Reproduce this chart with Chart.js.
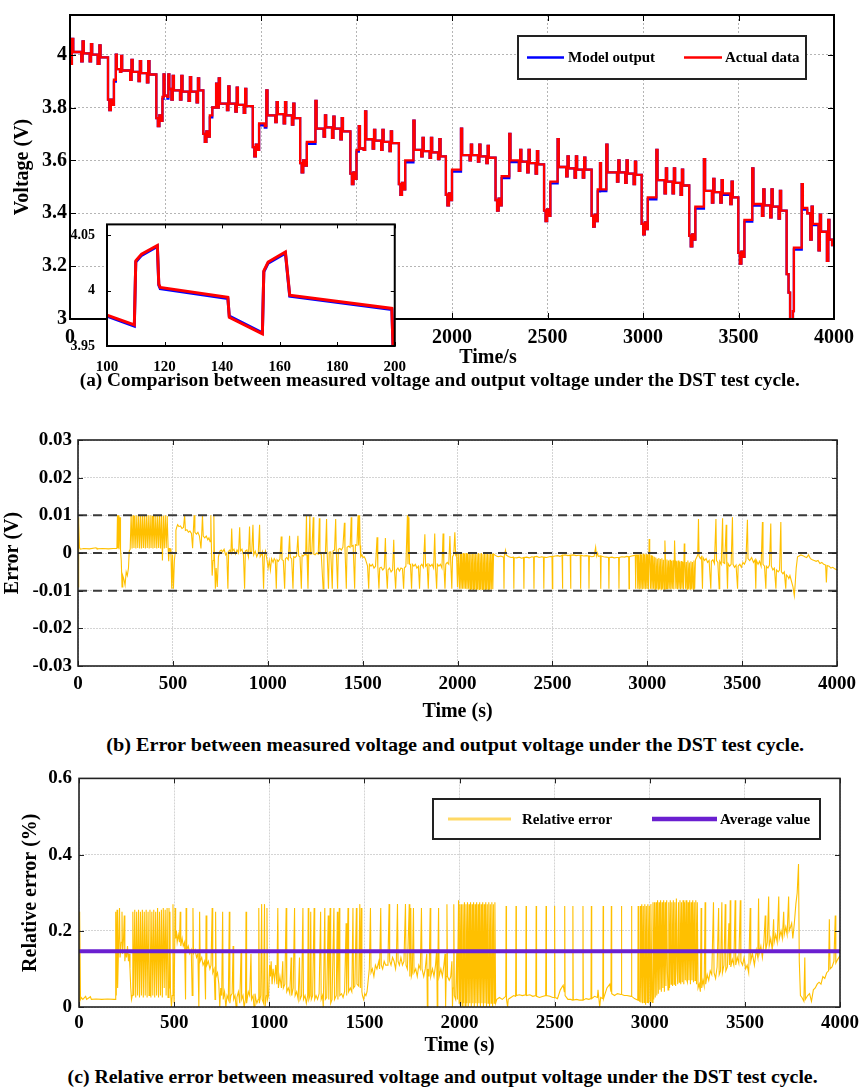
<!DOCTYPE html>
<html><head><meta charset="utf-8">
<script src="https://cdn.jsdelivr.net/npm/chart.js@4.4.1/dist/chart.umd.min.js"></script>
<style>
html,body{margin:0;padding:0;background:#fff;}
#page{position:relative;width:867px;height:1089px;overflow:hidden;background:#fff;font-family:"Liberation Serif","Times New Roman",serif;}
.box{position:absolute;}
.cap{position:absolute;width:867px;text-align:center;font-weight:bold;white-space:nowrap;color:#000;line-height:22px;}
.cap span{display:inline-block;transform-origin:50% 50%;}
</style></head><body>
<div id="page">
  <div class="box" style="left:0;top:0;width:867px;height:372px"><canvas id="cA"></canvas></div>
  <div class="box" style="left:60px;top:212px;width:350px;height:160px"><canvas id="cI"></canvas></div>
  <div class="cap" style="left:6px;top:369px"><span id="capA" style="font-size:18px">(a) Comparison between measured voltage and output voltage under the DST test cycle.</span></div>
  <div class="box" style="left:0;top:420px;width:867px;height:310px"><canvas id="cB"></canvas></div>
  <div class="cap" style="left:22px;top:734px"><span id="capB" style="font-size:19px">(b) Error between measured voltage and output voltage under the DST test cycle.</span></div>
  <div class="box" style="left:0;top:760px;width:867px;height:300px"><canvas id="cC"></canvas></div>
  <div class="cap" style="left:9px;top:1066px"><span id="capC" style="font-size:19px">(c) Relative error between measured voltage and output voltage under the DST test cycle.</span></div>
</div>
<script>
// ---------------- DATA ----------------
const timeTicks = [0,500,1000,1500,2000,2500,3000,3500,4000];
const voltTicks = [3,3.2,3.4,3.6,3.8,4];
const voltTickLabels = ['3','3.2','3.4','3.6','3.8','4'];
const insetTimeTicks = [100,120,140,160,180,200];
const insetVoltTicks = [3.95,4,4.05];
const insetVoltTickLabels = ['3.95','4','4.05'];
const errTicks = [-0.03,-0.02,-0.01,0,0.01,0.02,0.03];
const errTickLabels = ['-0.03','-0.02','-0.01','0','0.01','0.02','0.03'];
const relTicks = [0,0.2,0.4,0.6];
const relTickLabels = ['0','0.2','0.4','0.6'];
const errorBands = [0.01,0,-0.01];
const avgRelErr = 0.146;

// [time s, voltage V] (step series)
const voltageActual = [
[0,3.965],[10,4.06],[17,4.01],[59,3.975],[66,4.05],[72,4.005],[103,3.975],[110,4.04],[116,4.0],[145,3.965],[154,4.035],[160,3.99],
[199,3.83],[206,3.79],[214,3.83],[222,3.81],[230,3.905],[240,4.0],[245,3.945],[262,3.935],[268,3.995],[273,3.94],[315,3.905],[322,3.98],[328,3.935],[359,3.9],[366,3.975],[372,3.93],[403,3.895],[410,3.975],[416,3.925],
[452,3.76],[460,3.73],[468,3.77],[476,3.75],[484,3.84],[490,3.925],[495,3.845],[510,3.84],[515,3.925],[520,3.87],[531,3.83],[538,3.92],[544,3.865],[576,3.83],[583,3.92],[589,3.86],[621,3.825],[628,3.915],[634,3.86],[663,3.82],[670,3.91],[676,3.865],
[698,3.7],[706,3.67],[714,3.71],[722,3.69],[732,3.77],[745,3.8],[765,3.89],[770,3.8],[779,3.91],[785,3.815],[822,3.79],[829,3.88],[835,3.815],[866,3.785],[873,3.875],[879,3.81],[910,3.78],[917,3.87],[923,3.805],
[957,3.65],[965,3.615],[973,3.66],[981,3.64],[990,3.74],[1020,3.73],[1028,3.865],[1034,3.77],[1075,3.745],[1082,3.82],[1088,3.775],[1119,3.74],[1126,3.82],[1132,3.77],[1162,3.735],[1169,3.815],[1175,3.76],
[1205,3.59],[1213,3.555],[1221,3.6],[1229,3.58],[1240,3.67],[1285,3.825],[1291,3.72],[1328,3.69],[1335,3.77],[1341,3.725],[1372,3.685],[1379,3.765],[1385,3.72],[1416,3.68],[1423,3.76],[1429,3.71],
[1468,3.55],[1476,3.51],[1484,3.555],[1492,3.53],[1500,3.64],[1512,3.73],[1518,3.645],[1538,3.64],[1545,3.785],[1551,3.68],[1585,3.645],[1592,3.715],[1598,3.675],[1629,3.64],[1636,3.715],[1642,3.67],[1673,3.635],[1680,3.71],[1686,3.665],
[1722,3.51],[1730,3.47],[1738,3.515],[1746,3.49],[1755,3.6],[1798,3.75],[1804,3.64],[1839,3.615],[1846,3.685],[1852,3.635],[1883,3.61],[1890,3.685],[1896,3.63],[1927,3.605],[1934,3.68],[1940,3.615],
[1968,3.47],[1976,3.43],[1984,3.475],[1992,3.45],[2000,3.565],[2047,3.72],[2053,3.62],[2092,3.6],[2099,3.66],[2105,3.62],[2136,3.595],[2143,3.66],[2149,3.615],[2180,3.59],[2187,3.655],[2193,3.61],
[2228,3.45],[2236,3.41],[2244,3.455],[2252,3.43],[2260,3.54],[2300,3.7],[2306,3.6],[2350,3.56],[2357,3.64],[2363,3.595],[2394,3.555],[2401,3.64],[2407,3.59],[2438,3.55],[2445,3.635],[2451,3.585],
[2482,3.41],[2490,3.37],[2498,3.415],[2506,3.39],[2515,3.52],[2553,3.68],[2559,3.575],[2598,3.54],[2605,3.615],[2611,3.57],[2642,3.535],[2649,3.615],[2655,3.565],[2685,3.535],[2692,3.61],[2698,3.565],
[2731,3.39],[2739,3.35],[2747,3.395],[2755,3.37],[2763,3.49],[2775,3.59],[2780,3.49],[2808,3.66],[2814,3.555],[2864,3.52],[2871,3.6],[2877,3.555],[2907,3.515],[2914,3.6],[2920,3.55],[2951,3.51],[2958,3.595],[2964,3.545],
[2993,3.36],[3001,3.32],[3009,3.365],[3017,3.34],[3025,3.46],[3070,3.64],[3076,3.525],[3113,3.475],[3120,3.57],[3126,3.52],[3155,3.475],[3162,3.57],[3168,3.515],[3197,3.47],[3204,3.565],[3210,3.505],
[3242,3.315],[3250,3.275],[3258,3.32],[3266,3.3],[3274,3.425],[3319,3.605],[3325,3.485],[3361,3.44],[3368,3.53],[3374,3.48],[3405,3.44],[3412,3.525],[3418,3.475],[3457,3.435],[3464,3.52],[3470,3.46],
[3499,3.25],[3507,3.21],[3515,3.255],[3523,3.235],[3531,3.375],[3572,3.57],[3578,3.435],[3623,3.39],[3630,3.49],[3636,3.43],[3666,3.385],[3673,3.49],[3679,3.425],[3710,3.38],[3717,3.485],[3723,3.41],
[3752,3.17],[3762,3.1],[3770,2.97],[3785,3.03],[3790,3.27],[3831,3.51],[3837,3.42],[3860,3.4],[3876,3.3],[3883,3.425],[3889,3.36],[3919,3.26],[3926,3.395],[3932,3.33],[3963,3.22],[3970,3.375],[3976,3.3],[3990,3.28],[4000,3.28]
];
const voltageModel = [
[0,3.965],[10,4.06],[17,4.01],[59,3.975],[66,4.05],[72,4.005],[103,3.975],[110,4.04],[116,4.0],[145,3.965],[154,4.035],[160,3.99],
[199,3.83],[206,3.79],[214,3.83],[222,3.81],[230,3.898],[240,4.0],[245,3.945],[262,3.935],[268,3.995],[273,3.94],[315,3.905],[322,3.98],[328,3.935],[359,3.9],[366,3.975],[372,3.93],[403,3.895],[410,3.975],[416,3.925],
[452,3.76],[460,3.73],[468,3.77],[476,3.75],[484,3.833],[490,3.925],[495,3.845],[510,3.834],[515,3.925],[520,3.87],[531,3.83],[538,3.92],[544,3.865],[576,3.83],[583,3.92],[589,3.86],[621,3.825],[628,3.915],[634,3.86],[663,3.82],[670,3.91],[676,3.865],
[698,3.7],[706,3.67],[714,3.71],[722,3.69],[732,3.763],[745,3.8],[765,3.89],[770,3.8],[779,3.91],[785,3.815],[822,3.79],[829,3.88],[835,3.815],[866,3.785],[873,3.875],[879,3.81],[910,3.78],[917,3.87],[923,3.805],
[957,3.65],[965,3.615],[973,3.66],[981,3.64],[990,3.733],[1020,3.724],[1028,3.865],[1034,3.77],[1075,3.745],[1082,3.82],[1088,3.775],[1119,3.74],[1126,3.82],[1132,3.77],[1162,3.735],[1169,3.815],[1175,3.76],
[1205,3.59],[1213,3.555],[1221,3.6],[1229,3.58],[1240,3.663],[1285,3.825],[1291,3.72],[1328,3.69],[1335,3.77],[1341,3.725],[1372,3.685],[1379,3.765],[1385,3.72],[1416,3.68],[1423,3.76],[1429,3.71],
[1468,3.55],[1476,3.51],[1484,3.555],[1492,3.53],[1500,3.633],[1512,3.73],[1518,3.645],[1538,3.64],[1545,3.785],[1551,3.68],[1585,3.645],[1592,3.715],[1598,3.675],[1629,3.64],[1636,3.715],[1642,3.67],[1673,3.635],[1680,3.71],[1686,3.665],
[1722,3.51],[1730,3.47],[1738,3.515],[1746,3.49],[1755,3.593],[1798,3.75],[1804,3.64],[1839,3.615],[1846,3.685],[1852,3.635],[1883,3.61],[1890,3.685],[1896,3.63],[1927,3.605],[1934,3.68],[1940,3.615],
[1968,3.47],[1976,3.43],[1984,3.475],[1992,3.45],[2000,3.558],[2047,3.72],[2053,3.62],[2092,3.6],[2099,3.66],[2105,3.62],[2136,3.595],[2143,3.66],[2149,3.615],[2180,3.59],[2187,3.655],[2193,3.61],
[2228,3.45],[2236,3.41],[2244,3.455],[2252,3.43],[2260,3.533],[2300,3.7],[2306,3.594],[2350,3.56],[2357,3.64],[2363,3.595],[2394,3.555],[2401,3.64],[2407,3.59],[2438,3.55],[2445,3.635],[2451,3.585],
[2482,3.41],[2490,3.37],[2498,3.415],[2506,3.39],[2515,3.513],[2553,3.68],[2559,3.575],[2598,3.54],[2605,3.615],[2611,3.57],[2642,3.535],[2649,3.615],[2655,3.565],[2685,3.535],[2692,3.61],[2698,3.565],
[2731,3.39],[2739,3.35],[2747,3.395],[2755,3.37],[2763,3.483],[2775,3.59],[2780,3.484],[2808,3.66],[2814,3.555],[2864,3.52],[2871,3.6],[2877,3.555],[2907,3.515],[2914,3.6],[2920,3.55],[2951,3.51],[2958,3.595],[2964,3.545],
[2993,3.36],[3001,3.32],[3009,3.365],[3017,3.34],[3025,3.453],[3070,3.64],[3076,3.525],[3113,3.475],[3120,3.57],[3126,3.52],[3155,3.475],[3162,3.57],[3168,3.515],[3197,3.47],[3204,3.565],[3210,3.505],
[3242,3.315],[3250,3.275],[3258,3.32],[3266,3.3],[3274,3.418],[3319,3.605],[3325,3.485],[3361,3.44],[3368,3.53],[3374,3.48],[3405,3.44],[3412,3.525],[3418,3.47],[3457,3.435],[3464,3.52],[3470,3.46],
[3499,3.25],[3507,3.21],[3515,3.255],[3523,3.235],[3531,3.368],[3572,3.57],[3578,3.429],[3623,3.39],[3630,3.49],[3636,3.43],[3666,3.385],[3673,3.49],[3679,3.425],[3710,3.38],[3717,3.485],[3723,3.41],
[3752,3.17],[3762,3.1],[3770,2.97],[3785,3.03],[3790,3.263],[3831,3.51],[3837,3.414],[3860,3.4],[3876,3.3],[3883,3.425],[3889,3.355],[3919,3.26],[3926,3.395],[3932,3.33],[3963,3.22],[3970,3.375],[3976,3.3],[3990,3.28],[4000,3.28]
];
// inset (100-200 s)
const insetActual = [[100,3.978],[109.5,3.969],[110,4.027],[112,4.033],[117.5,4.041],[118,4.006],[118.5,4.003],[142,3.994],[142.5,3.976],[154,3.961],[154.5,4.018],[156,4.026],[162,4.035],[163.5,3.996],[199,3.984],[199.5,3.94]];
const insetModel = [[100,3.977],[109.5,3.968],[110,4.026],[112,4.032],[117.5,4.04],[118,4.005],[118.5,4.002],[142,3.993],[142.5,3.977],[154,3.962],[154.5,4.017],[156,4.025],[162,4.034],[163.5,3.995],[199,3.983],[199.5,3.94]];

// [time s, error V]
const errorData = [
[0,-0.009],[2,0.0095],[5,0.008],[8,0.0015],[12,0.001],[30,0.0012],[60,0.0011],[95,0.0014],[100,0.0011],[130,0.0012],[160,0.0011],[185,0.0012],[205,0.0012],
[208,0.01],[210,0.0013],[214,0.01],[216,0.001],[222,0.0095],[224,0.001],[228,-0.002],[232,-0.009],[236,-0.006],[242,-0.007],[248,-0.0085],[254,-0.005],[260,-0.006],[266,-0.004],[270,0.0005],[275,0.001],
[280,0.01],[285,0.0012],[290,0.01],[295,0.0013],[300,0.0098],[305,0.0012],[310,0.01],[315,0.0013],[320,0.01],[325,0.0012],[330,0.0099],[335,0.0012],[340,0.01],[345,0.0013],[350,0.01],[355,0.0012],[360,0.0098],[365,0.0013],[370,0.01],[375,0.0012],[380,0.01],[385,0.0013],[390,0.0099],[395,0.0012],[400,0.01],[405,0.0013],[410,0.01],[415,0.0012],[420,0.0098],[425,0.0013],[430,0.01],[435,0.0012],[440,0.01],[445,-0.002],[450,0.0099],[455,0.0012],[460,0.01],[465,0.0013],[470,0.0098],[475,0.0012],[478,-0.0022],[481,0.0012],
[485,0.0012],[490,-0.0005],[494,-0.0095],[498,-0.0005],[503,-0.0095],[508,-0.002],[512,0.0],[516,0.006],[520,0.0068],
[525,0.0075],[532,0.007],[540,0.0072],[548,0.0065],[556,0.0068],[562,0.01],[566,0.006],[574,0.0062],[582,0.0055],[590,0.0058],[598,0.0052],[604,0.0013],[608,0.006],[612,0.01],[616,0.0055],[624,0.005],[632,0.0055],[640,0.0045],[648,0.0012],[652,0.005],[656,0.01],[660,0.0045],[668,0.004],[676,0.0045],[684,0.0035],[690,0.004],
[696,0.003],[700,0.01],[703,0.002],[707,-0.006],[712,-0.002],[716,0.01],[719,-0.001],[724,-0.0095],[728,-0.004],[734,-0.009],[740,-0.001],[748,0.0005],
[755,0.0008],[762,0.0003],[770,0.001],[778,-0.0005],[784,0.0],[790,-0.0095],[794,0.0005],[800,0.0008],[806,0.0],[810,0.0065],[814,0.0005],[822,0.001],[830,-0.0003],[838,0.0008],[846,0.0],[852,0.0068],[856,0.0005],[864,0.001],[872,-0.0005],[878,-0.0095],[882,0.0005],[890,0.0008],[898,-0.001],[904,0.007],[908,0.0],[916,0.0005],[922,0.0075],[926,-0.0005],[934,0.0005],[942,-0.001],[950,0.0],[957,0.0075],[960,-0.001],
[966,-0.0005],[972,0.0003],[978,-0.0095],[982,-0.001],[988,0.0005],[994,-0.0012],
[1002,-0.004],[1008,-0.002],[1014,-0.0045],[1020,-0.0015],[1028,-0.0025],[1034,-0.0015],[1040,-0.002],[1045,-0.0095],[1049,-0.0018],[1056,-0.0022],[1064,-0.0015],[1071,0.0044],[1075,-0.0018],[1082,-0.002],[1089,-0.0095],[1093,-0.0015],[1100,-0.0012],[1108,-0.0018],[1115,0.0046],[1119,-0.0012],[1126,-0.0015],[1133,-0.0095],[1137,-0.001],[1144,-0.0012],[1152,-0.0008],[1159,0.0046],[1163,-0.0008],[1170,-0.001],[1177,-0.0095],[1181,-0.0006],[1188,-0.0008],[1195,-0.0003],
[1200,-0.0005],[1204,0.01],[1207,-0.0005],[1212,-0.0095],[1216,0.0],[1222,0.01],[1225,-0.0003],[1232,-0.0002],[1240,0.0095],[1243,-0.0003],[1250,-0.0005],[1258,0.0],[1266,-0.0003],[1272,0.0092],[1275,-0.0002],[1282,-0.0004],
[1292,-0.0095],[1296,-0.0003],[1304,0.0],[1310,0.009],[1313,0.0],[1320,-0.0095],[1324,0.0002],[1332,0.0003],[1340,-0.0095],[1344,0.0005],[1352,0.0008],[1358,0.009],[1361,0.0008],[1368,-0.0095],[1372,0.001],[1380,0.0012],[1388,0.0008],[1396,0.0015],[1404,0.008],[1407,0.0012],[1414,-0.0095],[1418,0.0015],[1426,0.0018],[1434,0.0015],[1440,0.0095],[1443,0.0018],[1450,0.002],[1458,-0.0095],[1462,0.0022],[1470,0.002],[1476,0.01],[1479,0.002],[1484,0.01],[1487,0.002],
[1490,-0.001],[1496,-0.0005],[1502,-0.0012],[1508,-0.001],[1514,-0.0015],
[1520,-0.0025],[1526,-0.0035],[1532,-0.0095],[1536,-0.003],[1544,-0.0035],[1552,-0.003],[1560,-0.004],[1568,-0.0035],[1576,0.0042],[1580,-0.0035],[1586,-0.0095],[1590,-0.004],[1598,-0.0038],[1606,-0.0045],[1614,-0.004],[1620,0.004],[1624,-0.004],[1630,-0.0095],[1634,-0.0045],[1642,-0.004],[1650,-0.005],[1658,-0.0045],[1664,0.0035],[1668,-0.0045],[1674,-0.0095],[1678,-0.0045],[1686,-0.004],[1694,-0.0048],[1702,-0.004],[1710,-0.0042],[1716,-0.0095],[1720,-0.004],[1728,-0.0035],[1736,0.01],[1739,-0.003],[1744,0.0095],[1747,-0.003],
[1752,-0.003],[1758,-0.0095],[1762,-0.003],[1770,-0.0035],[1778,-0.003],[1786,-0.004],[1794,-0.0035],[1800,-0.0095],[1804,-0.0035],[1812,-0.003],[1820,-0.0038],[1828,0.005],[1832,-0.0035],[1840,-0.003],[1846,-0.0095],[1850,-0.003],[1858,-0.0035],[1866,-0.003],[1874,-0.004],[1880,0.0052],[1884,-0.0035],[1890,-0.0095],[1894,-0.003],[1902,-0.0035],[1910,-0.003],[1918,-0.004],[1924,0.0052],[1928,-0.003],[1934,-0.0095],[1938,-0.003],[1946,-0.0025],[1954,-0.003],[1960,0.0045],[1964,-0.002],[1970,-0.0095],[1974,-0.001],[1980,-0.0005],[1986,0.0055],[1990,-0.0005],
[1995,0.0],[2000,-0.009],[2004,-0.0002],[2010,-0.0095],[2014,0.0],[2018,-0.0095],[2022,-0.0003],[2026,-0.0095],[2030,0.0],[2034,-0.0095],[2038,-0.0002],[2042,-0.0095],[2046,0.0],[2050,-0.0096],[2054,-0.0002],[2058,-0.0095],[2062,0.0],[2066,-0.0097],[2070,-0.0003],[2074,-0.0096],[2078,0.0],[2082,-0.0097],[2086,-0.0002],[2090,-0.0096],[2094,0.0],[2098,-0.0097],[2102,-0.0003],[2106,-0.0096],[2110,0.0],[2114,-0.0097],[2118,-0.0002],[2122,-0.0096],[2126,0.0],[2130,-0.0097],[2134,-0.0003],[2138,-0.0096],[2142,0.0],[2146,-0.0097],[2150,-0.0002],[2154,-0.0096],[2158,0.0],[2162,-0.0097],[2166,-0.0003],[2170,-0.0096],[2174,0.0],[2178,-0.0097],[2182,-0.0002],[2186,-0.0096],[2190,-0.0003],
[2196,-0.0005],[2205,-0.0008],[2215,-0.001],[2228,-0.0008],[2243,-0.0011],[2245,-0.0095],[2247,-0.0006],[2253,0.0007],[2256,-0.0005],[2268,-0.0009],[2282,-0.0012],[2295,-0.0011],[2297,-0.0095],[2299,-0.0012],[2312,-0.0013],[2325,-0.0011],[2338,-0.0014],[2348,-0.0012],[2350,-0.0095],[2352,-0.0012],[2365,-0.0011],[2378,-0.0013],[2392,-0.001],[2401,-0.0011],[2403,-0.0095],[2405,-0.001],[2418,-0.0009],[2430,-0.0012],[2444,-0.001],[2453,-0.0011],[2455,-0.0095],[2457,-0.0011],[2470,-0.0012],[2484,-0.001],[2498,-0.0009],[2500,-0.0095],[2502,-0.0009],[2515,-0.0008],[2528,-0.0007],[2540,-0.0009],[2551,-0.0006],[2553,-0.0095],[2555,-0.0006],[2568,-0.0005],[2582,-0.0007],[2594,-0.0006],[2596,-0.0095],[2598,-0.0006],[2612,-0.0005],[2625,-0.0007],[2638,-0.0006],[2647,-0.0006],[2649,-0.0095],[2651,-0.0006],[2664,-0.0008],[2678,-0.0007],[2691,-0.0008],[2693,-0.0095],[2695,-0.0008],[2708,-0.001],[2720,-0.0009],[2728,0.0015],[2732,-0.0008],[2737,0.0],[2742,-0.0009],[2753,-0.0008],[2755,-0.0095],[2757,-0.0008],[2770,-0.001],[2784,-0.0011],[2796,-0.0012],[2798,-0.0095],[2800,-0.0012],[2814,-0.0011],[2826,-0.0013],[2840,-0.0012],[2849,-0.0012],[2851,-0.0095],[2853,-0.0012],[2866,-0.001],[2880,-0.0011],[2892,-0.0009],[2902,-0.001],[2904,-0.0095],[2906,-0.001],[2918,-0.0008],[2928,-0.0007],[2937,-0.0006],[2939,-0.0095],[2941,-0.0006],[2947,-0.0005],
[2950,-0.0095],[2954,-0.0004],[2958,-0.0096],[2962,-0.0003],[2966,-0.0095],[2970,-0.0004],[2974,-0.0096],[2978,-0.0002],[2982,-0.0095],[2986,-0.0004],[2990,-0.0096],[2994,-0.0003],[2998,-0.0095],[3002,-0.0005],[3006,-0.0096],[3010,0.0037],[3013,-0.0004],[3017,-0.0095],[3021,-0.0006],[3025,-0.0096],[3029,-0.0008],[3033,-0.0095],[3037,-0.001],[3041,-0.0096],[3045,-0.0012],[3049,-0.0095],[3053,-0.0015],[3057,-0.0096],[3061,-0.0013],[3065,-0.0095],[3069,-0.0016],[3073,-0.0096],[3077,-0.0014],[3081,-0.0095],[3085,-0.0018],[3089,-0.0096],[3093,0.0033],[3096,-0.0015],[3100,-0.0095],[3104,-0.0017],[3108,-0.0096],[3112,-0.002],[3116,-0.0095],[3120,-0.0018],[3124,-0.0096],[3128,-0.0021],[3132,-0.0095],[3136,-0.0019],[3140,-0.0096],[3144,0.0033],[3147,-0.002],[3151,-0.0095],[3155,-0.0022],[3159,-0.0096],[3163,-0.002],[3167,-0.0095],[3171,-0.0023],[3175,-0.0096],[3179,-0.0021],[3183,-0.0095],[3187,-0.0024],[3191,-0.0096],[3195,0.0025],[3198,-0.0022],[3202,-0.0095],[3206,-0.0024],[3210,-0.0096],[3214,-0.002],[3218,-0.0095],[3222,-0.0025],[3226,-0.0096],[3230,-0.0022],[3234,-0.0095],[3238,-0.0024],[3242,-0.0096],[3246,-0.002],[3250,-0.0095],[3254,-0.0018],
[3260,-0.0012],[3266,-0.0005],[3270,0.009],[3273,-0.0008],[3280,-0.0015],[3286,-0.001],[3291,-0.0095],[3294,-0.0012],[3302,-0.002],[3310,-0.0015],[3318,-0.0025],[3326,-0.002],[3335,-0.0095],[3338,-0.0022],[3346,-0.0018],[3354,-0.0028],[3362,0.009],[3365,-0.002],[3372,-0.0025],[3379,-0.0095],[3382,-0.0022],[3390,-0.003],[3397,0.0092],[3400,-0.0025],[3408,-0.0028],[3416,0.0075],[3419,-0.003],[3423,-0.0095],[3426,-0.0028],[3434,-0.0035],[3442,-0.003],[3449,0.0095],[3452,-0.003],[3460,-0.0038],[3468,-0.0032],[3476,-0.0095],[3479,-0.0035],[3488,-0.003],[3496,-0.0038],[3504,-0.0025],[3512,-0.003],[3520,-0.002],
[3528,0.0088],[3531,-0.0015],[3540,-0.002],[3550,-0.0012],[3560,-0.0025],[3568,-0.0018],[3572,-0.0095],[3575,-0.002],[3584,-0.003],[3592,-0.0022],[3600,-0.0035],[3607,0.0082],[3610,-0.003],[3618,-0.0035],[3625,-0.0095],[3628,-0.0035],[3636,-0.004],[3644,-0.0032],[3651,0.0078],[3654,-0.0035],[3662,-0.0045],[3670,-0.004],[3678,-0.0095],[3681,-0.0045],[3690,-0.005],[3697,-0.0045],[3704,0.0082],[3707,-0.005],[3715,-0.0055],[3722,-0.005],[3730,-0.0095],[3733,-0.0058],[3740,-0.0062],[3746,-0.0068],
[3752,-0.006],[3760,-0.0075],[3768,-0.009],[3775,-0.0113],[3780,-0.008],[3785,-0.004],[3792,-0.001],[3800,-0.0008],[3810,-0.0005],[3820,-0.0007],[3830,-0.001],[3840,-0.0012],[3850,-0.0005],[3860,-0.0015],[3870,-0.0018],[3880,-0.002],[3890,-0.0022],[3900,-0.002],[3910,-0.0028],[3920,-0.0025],[3930,-0.003],[3940,-0.0032],[3944,-0.0078],[3948,-0.0033],[3958,-0.0035],[3968,-0.004],[3978,-0.0038],[3988,-0.0042],[4000,-0.0045]
];

// [time s, relative error %]
const relErrorData = [
[0,0.0],[2,0.25],[5,0.24],[8,0.02],[12,0.025],[20,0.02],[35,0.028],[40,0.02],[60,0.027],[65,0.02],[90,0.021],[120,0.02],[150,0.021],[185,0.02],
[190,0.02],[193,0.25],[196,0.03],[200,0.255],[203,0.05],[208,0.16],[213,0.26],[216,0.13],[222,0.17],[226,0.25],[229,0.14],[234,0.18],[238,0.24],[241,0.12],[246,0.15],[250,0.13],[255,0.16],[260,0.12],[264,0.14],[268,0.1],[272,0.05],[276,0.02],[280,0.03],
[283,0.25],[288,0.03],[293,0.255],[298,0.025],[303,0.25],[308,0.03],[313,0.255],[318,0.025],[323,0.25],[328,0.03],[333,0.255],[338,0.025],[343,0.25],[348,0.03],[353,0.255],[358,0.025],[363,0.25],[368,0.03],[373,0.255],[378,0.025],[383,0.25],[388,0.03],[393,0.255],[398,0.025],[403,0.25],[408,0.03],[413,0.26],[418,0.025],[423,0.25],[428,0.03],[433,0.255],[438,0.025],[443,0.26],[448,0.05],[453,0.255],[458,0.03],[463,0.26],[468,0.025],[473,0.26],[476,0.05],
[478,0.25],[481,0.04],[486,0.0],[490,0.03],[494,0.27],[497,0.05],[500,0.01],[505,0.26],
[508,0.18],[512,0.2],[516,0.17],[522,0.19],[528,0.17],[532,0.25],[535,0.16],[542,0.18],[548,0.16],[555,0.17],[560,0.02],[563,0.26],[566,0.15],[574,0.16],[582,0.14],[590,0.15],[595,0.03],[599,0.26],[602,0.14],[610,0.15],[618,0.13],[625,0.14],[630,0.0],[634,0.25],[637,0.12],[645,0.13],[652,0.11],[660,0.12],[665,0.02],[668,0.24],[672,0.11],[680,0.12],[688,0.1],[694,0.11],[700,0.26],[703,0.09],[710,0.1],[715,0.02],[718,0.25],[721,0.08],[728,0.09],
[735,0.06],[740,0.0],[745,0.05],[750,0.03],[755,0.25],[758,0.02],[765,0.04],[772,0.0],[778,0.03],[785,0.02],[790,0.25],[793,0.01],[798,0.03],
[805,0.035],[810,0.16],[813,0.02],[820,0.03],[826,0.0],[830,0.025],[838,0.04],[845,0.01],[852,0.15],[855,0.02],[862,0.03],[868,0.0],[875,0.02],[878,0.25],[881,0.01],[890,0.04],[897,0.03],[904,0.14],[907,0.02],[915,0.03],[920,0.0],[925,0.035],[930,0.02],[935,0.01],
[942,0.02],[945,0.26],[948,0.01],[955,0.03],[960,0.27],[963,0.02],[970,0.01],[975,0.27],[978,0.0],[985,0.03],[988,0.26],[991,0.02],[996,0.03],
[1002,0.11],[1006,0.08],[1010,0.12],[1015,0.06],[1020,0.1],[1028,0.07],[1034,0.11],[1040,0.06],[1045,0.26],[1048,0.05],[1056,0.08],[1064,0.05],[1071,0.12],[1074,0.05],[1082,0.06],[1089,0.26],[1092,0.04],[1100,0.05],[1108,0.035],[1115,0.13],[1118,0.03],[1126,0.05],[1133,0.26],[1136,0.03],[1144,0.04],[1152,0.02],[1159,0.13],[1162,0.02],[1170,0.03],[1177,0.26],[1180,0.02],[1188,0.03],[1195,0.01],
[1202,0.03],[1205,0.26],[1208,0.02],[1214,0.03],[1218,0.25],[1221,0.02],[1228,0.03],[1236,0.26],[1239,0.02],[1246,0.03],[1254,0.02],[1262,0.035],[1270,0.25],[1273,0.02],[1280,0.03],[1284,0.0],[1292,0.26],[1295,0.02],[1302,0.025],[1310,0.24],[1313,0.02],[1320,0.26],[1323,0.01],[1330,0.02],[1340,0.26],[1343,0.02],[1352,0.03],[1358,0.25],[1361,0.02],[1368,0.26],[1371,0.03],[1380,0.035],[1388,0.025],[1396,0.04],[1404,0.22],[1407,0.03],[1414,0.26],[1417,0.04],[1426,0.05],[1434,0.04],[1440,0.26],[1443,0.05],[1450,0.055],[1458,0.26],[1461,0.06],[1470,0.055],[1476,0.27],[1479,0.05],[1484,0.26],[1487,0.04],
[1490,0.03],[1496,0.02],[1502,0.035],[1508,0.03],[1514,0.04],[1520,0.07],[1526,0.1],[1532,0.26],[1535,0.09],[1542,0.1],[1550,0.08],[1558,0.11],[1566,0.1],[1576,0.12],[1580,0.1],[1586,0.26],[1589,0.11],[1596,0.1],[1604,0.12],[1612,0.11],[1620,0.11],[1624,0.12],[1630,0.27],[1633,0.12],[1640,0.11],[1648,0.13],[1656,0.12],[1664,0.1],[1668,0.12],[1674,0.27],[1677,0.12],[1684,0.11],[1692,0.13],[1700,0.11],[1708,0.12],[1716,0.27],[1719,0.11],[1726,0.1],[1736,0.27],[1739,0.08],[1744,0.26],[1747,0.08],
[1752,0.09],[1758,0.26],[1761,0.09],[1770,0.1],[1778,0.08],[1786,0.11],[1794,0.1],[1800,0.26],[1803,0.1],[1812,0.08],[1820,0.1],[1828,0.14],[1831,0.0],[1834,0.1],[1840,0.08],[1846,0.26],[1849,0.08],[1858,0.1],[1866,0.08],[1874,0.11],[1880,0.15],[1883,0.0],[1886,0.1],[1890,0.26],[1893,0.08],[1902,0.1],[1910,0.08],[1918,0.11],[1924,0.14],[1927,0.0],[1930,0.08],[1934,0.27],[1937,0.08],[1946,0.07],[1954,0.08],[1960,0.12],[1963,0.0],[1966,0.05],[1970,0.27],[1973,0.03],[1980,0.02],[1986,0.15],[1989,0.02],[1995,0.28],[1998,0.01],
[2002,0.27],[2006,0.01],[2010,0.27],[2014,0.0],[2018,0.27],[2022,0.01],[2026,0.275],[2030,0.0],[2034,0.27],[2038,0.01],[2042,0.275],[2046,0.0],[2050,0.27],[2054,0.01],[2058,0.275],[2062,0.0],[2066,0.27],[2070,0.01],[2074,0.275],[2078,0.0],[2082,0.27],[2086,0.01],[2090,0.275],[2094,0.0],[2098,0.27],[2102,0.01],[2106,0.275],[2110,0.0],[2114,0.27],[2118,0.01],[2122,0.275],[2126,0.0],[2130,0.27],[2134,0.01],[2138,0.275],[2142,0.0],[2146,0.27],[2150,0.01],[2154,0.275],[2158,0.0],[2162,0.27],[2166,0.01],[2170,0.275],[2174,0.0],[2178,0.27],[2182,0.01],[2186,0.275],[2190,0.01],
[2196,0.02],[2210,0.025],[2225,0.02],[2243,0.028],[2245,0.265],[2247,0.02],[2253,0.0],[2256,0.02],[2270,0.025],[2285,0.03],[2295,0.028],[2297,0.265],[2299,0.03],[2315,0.032],[2330,0.03],[2348,0.032],[2350,0.265],[2352,0.03],[2370,0.032],[2385,0.028],[2401,0.03],[2403,0.265],[2405,0.028],[2420,0.025],[2440,0.028],[2453,0.03],[2455,0.265],[2457,0.03],[2475,0.028],[2490,0.025],[2498,0.025],[2500,0.265],[2502,0.025],[2515,0.022],[2530,0.045],[2545,0.057],[2551,0.04],[2553,0.265],[2555,0.03],[2570,0.02],[2585,0.02],[2594,0.018],[2596,0.265],[2598,0.018],[2615,0.02],[2630,0.018],[2647,0.018],[2649,0.265],[2651,0.018],[2665,0.022],[2680,0.02],[2691,0.022],[2693,0.265],[2695,0.022],[2710,0.028],[2725,0.025],[2728,0.045],[2737,0.0],[2742,0.025],[2753,0.022],[2755,0.265],[2757,0.022],[2775,0.05],[2790,0.06],[2796,0.04],[2798,0.265],[2800,0.035],[2815,0.03],[2830,0.035],[2849,0.033],[2851,0.265],[2853,0.033],[2866,0.03],[2880,0.03],[2902,0.028],[2904,0.265],[2906,0.028],[2920,0.022],[2937,0.018],[2939,0.265],[2941,0.018],[2947,0.015],
[2950,0.265],[2954,0.012],[2958,0.27],[2962,0.01],[2966,0.265],[2970,0.012],[2974,0.27],[2978,0.006],[2982,0.265],[2986,0.012],[2990,0.27],[2994,0.01],[2998,0.265],[3002,0.015],[3006,0.27],[3010,0.1],[3013,0.012],[3017,0.275],[3021,0.02],[3025,0.275],[3029,0.025],[3033,0.275],[3037,0.03],[3041,0.28],[3045,0.035],[3049,0.275],[3053,0.045],[3057,0.28],[3061,0.04],[3065,0.275],[3069,0.05],[3073,0.28],[3077,0.04],[3081,0.275],[3085,0.055],[3089,0.28],[3093,0.09],[3096,0.045],[3100,0.275],[3104,0.05],[3108,0.28],[3112,0.06],[3116,0.275],[3120,0.055],[3124,0.28],[3128,0.06],[3132,0.275],[3136,0.055],[3140,0.285],[3144,0.1],[3147,0.06],[3151,0.275],[3155,0.065],[3159,0.28],[3163,0.06],[3167,0.275],[3171,0.065],[3175,0.28],[3179,0.06],[3183,0.275],[3187,0.07],[3191,0.28],[3195,0.07],[3198,0.065],[3202,0.275],[3206,0.07],[3210,0.28],[3214,0.06],[3218,0.275],[3222,0.07],[3226,0.28],[3230,0.065],[3234,0.275],[3238,0.07],[3242,0.28],[3246,0.06],[3250,0.275],[3254,0.05],
[3260,0.06],[3266,0.04],[3270,0.26],[3273,0.05],[3280,0.07],[3286,0.055],[3291,0.275],[3294,0.06],[3302,0.085],[3310,0.07],[3318,0.095],[3326,0.085],[3335,0.275],[3338,0.09],[3346,0.075],[3354,0.105],[3362,0.26],[3365,0.085],[3372,0.095],[3379,0.275],[3382,0.09],[3390,0.11],[3397,0.27],[3400,0.095],[3408,0.105],[3416,0.22],[3419,0.11],[3423,0.28],[3426,0.105],[3434,0.125],[3442,0.11],[3449,0.28],[3452,0.11],[3460,0.13],[3468,0.115],[3476,0.28],[3479,0.12],[3488,0.11],[3496,0.13],[3504,0.1],[3512,0.11],[3520,0.09],
[3528,0.26],[3531,0.12],[3540,0.14],[3550,0.11],[3560,0.15],[3568,0.13],[3572,0.285],[3575,0.14],[3584,0.16],[3592,0.13],[3600,0.17],[3607,0.24],[3610,0.15],[3618,0.17],[3625,0.29],[3628,0.16],[3636,0.18],[3644,0.15],[3651,0.23],[3654,0.17],[3662,0.19],[3670,0.17],[3678,0.29],[3681,0.18],[3690,0.2],[3697,0.18],[3704,0.25],[3707,0.19],[3715,0.21],[3722,0.19],[3730,0.29],[3733,0.2],[3740,0.21],[3746,0.22],
[3752,0.18],[3760,0.22],[3768,0.27],[3775,0.3],[3782,0.375],[3786,0.12],[3792,0.03],
[3800,0.025],[3810,0.015],[3815,0.13],[3818,0.02],[3830,0.03],[3840,0.035],[3850,0.015],[3860,0.045],[3870,0.05],[3880,0.06],[3890,0.065],[3900,0.06],[3910,0.08],[3920,0.075],[3930,0.09],[3940,0.095],[3944,0.23],[3948,0.1],[3958,0.105],[3968,0.12],[3975,0.24],[3978,0.115],[3988,0.125],[4000,0.135]
];

// ---------------- HELPERS ----------------
const FAMILY = '"Liberation Serif","Times New Roman",serif';
const bold = s => ({family: FAMILY, size: s, weight: 'bold'});
const toXY = arr => arr.map(p => ({x: p[0], y: p[1]}));
const flat = (v, x0, x1) => [{x: x0, y: v}, {x: x1, y: v}];

const framePlugin = {
  id: 'frame',
  afterDatasetsDraw(chart, args, o) {
    const {ctx, chartArea: a} = chart;
    const xs = chart.scales.x, ys = chart.scales.y;
    ctx.save();
    ctx.strokeStyle = o.color; ctx.lineWidth = 1;
    ctx.beginPath();
    xs.ticks.forEach(t => { const p = Math.round(xs.getPixelForValue(t.value)) + 0.5;
      ctx.moveTo(p, a.bottom); ctx.lineTo(p, a.bottom - o.len);
      ctx.moveTo(p, a.top); ctx.lineTo(p, a.top + o.len); });
    ys.ticks.forEach(t => { const p = Math.round(ys.getPixelForValue(t.value)) + 0.5;
      ctx.moveTo(a.left, p); ctx.lineTo(a.left + o.len, p);
      ctx.moveTo(a.right, p); ctx.lineTo(a.right - o.len, p); });
    ctx.stroke();
    ctx.lineWidth = o.width;
    ctx.strokeRect(a.left, a.top, a.right - a.left, a.bottom - a.top);
    ctx.restore();
  }
};
const areaFill = {
  id: 'areaFill',
  beforeDraw(chart, args, o) {
    const {ctx, chartArea: a} = chart;
    ctx.save(); ctx.fillStyle = o.color;
    ctx.fillRect(a.left, a.top, a.right - a.left, a.bottom - a.top);
    ctx.restore();
  }
};
const boxLegend = {
  id: 'boxLegend',
  afterDraw(chart, args, o) {
    if (!o || !o.items) return;
    const ctx = chart.ctx;
    ctx.save();
    ctx.fillStyle = '#fff'; ctx.fillRect(o.x, o.y, o.w, o.h);
    ctx.strokeStyle = '#222'; ctx.lineWidth = 2; ctx.strokeRect(o.x, o.y, o.w, o.h);
    const cy = o.y + o.h / 2;
    o.items.forEach(it => {
      const ds = chart.data.datasets[it.dataset];
      ctx.strokeStyle = it.color || ds.borderColor; ctx.lineWidth = it.lw;
      ctx.beginPath(); ctx.moveTo(it.x1, cy); ctx.lineTo(it.x2, cy); ctx.stroke();
      ctx.fillStyle = '#000'; ctx.font = o.font; ctx.textBaseline = 'middle'; ctx.textAlign = 'left';
      ctx.fillText(ds.label, it.tx, cy + 1);
    });
    ctx.restore();
  }
};
const extraText = {
  id: 'extraText',
  afterDraw(chart, args, o) {
    if (!o || !o.items) return;
    const ctx = chart.ctx;
    ctx.save();
    o.items.forEach(it => {
      ctx.font = it.font; ctx.fillStyle = '#000'; ctx.textAlign = 'center'; ctx.textBaseline = 'middle';
      ctx.fillText(it.text, it.x, it.y);
    });
    ctx.restore();
  }
};

function linScale(o) {
  return {
    type: 'linear', min: o.min, max: o.max,
    afterBuildTicks: s => { s.ticks = o.ticks.map(v => ({value: v})); },
    afterFit: s => { if (o.w !== undefined) s.width = o.w; if (o.h !== undefined) s.height = o.h; },
    grid: o.grid || {display: false},
    border: {display: false, dash: o.dash || []},
    ticks: {autoSkip: false, maxRotation: 0, minRotation: 0, color: '#000', font: bold(o.fs), padding: o.pad,
            callback: (v, i) => (o.labels ? o.labels[i] : String(v))},
    title: o.title || {display: false}
  };
}
const base = {responsive: true, maintainAspectRatio: false, animation: false, devicePixelRatio: 1, normalized: true,
  events: []};

// ---------------- (a) main voltage ----------------
new Chart(document.getElementById('cA'), {
  type: 'line',
  data: {datasets: [
    {label: 'Model output', data: toXY(voltageModel), borderColor: '#0000ff', borderWidth: 2.3, stepped: true, pointRadius: 0, order: 2},
    {label: 'Actual data', data: toXY(voltageActual), borderColor: '#ff0000', borderWidth: 2.3, stepped: true, pointRadius: 0, order: 1}
  ]},
  options: Object.assign({}, base, {
    layout: {padding: {left: 0, top: 13, right: 33, bottom: 0}},
    plugins: {legend: {display: false}, tooltip: {enabled: false},
      frame: {color: '#000', width: 2, len: 6},
      boxLegend: {x: 518, y: 36, w: 288, h: 43, font: 'bold 15px ' + FAMILY, items: [
        {dataset: 0, x1: 527, x2: 564, tx: 568, lw: 2.5},
        {dataset: 1, x1: 684, x2: 722, tx: 725, lw: 2.5}]},
      extraText: {items: [{text: 'Time/s', x: 488, y: 358, font: 'bold 20px ' + FAMILY}]}
    },
    scales: {
      x: linScale({min: 0, max: 4000, ticks: timeTicks, fs: 20, pad: 7, h: 53,
        grid: {color: '#b5b5b5', lineWidth: 1, drawTicks: false}, dash: [2, 2]}),
      y: linScale({min: 3, max: 4.15, ticks: voltTicks, labels: voltTickLabels, fs: 20, pad: 3, w: 70,
        grid: {color: '#b5b5b5', lineWidth: 1, drawTicks: false}, dash: [2, 2],
        title: {display: true, text: 'Voltage (V)', color: '#000', font: bold(20), padding: {top: 11, bottom: 0}}})
    }
  }),
  plugins: [framePlugin, boxLegend, extraText]
});

// ---------------- inset ----------------
new Chart(document.getElementById('cI'), {
  type: 'line',
  data: {datasets: [
    {label: 'Model output', data: toXY(insetModel), borderColor: '#0000ff', borderWidth: 3, pointRadius: 0, order: 2},
    {label: 'Actual data', data: toXY(insetActual), borderColor: '#ff0000', borderWidth: 3, pointRadius: 0, order: 1}
  ]},
  options: Object.assign({}, base, {
    layout: {padding: {left: 0, top: 7, right: 13, bottom: 0}},
    plugins: {legend: {display: false}, tooltip: {enabled: false},
      areaFill: {color: '#fff'}, frame: {color: '#000', width: 2, len: 4}},
    scales: {
      x: linScale({min: 100, max: 200, ticks: insetTimeTicks, fs: 15, pad: 4, h: 26}),
      y: linScale({min: 3.95, max: 4.06, ticks: insetVoltTicks, labels: insetVoltTickLabels, fs: 14, pad: 4, w: 47})
    }
  }),
  plugins: [areaFill, framePlugin]
});

// ---------------- (b) error ----------------
new Chart(document.getElementById('cB'), {
  type: 'line',
  data: {datasets: [
    ...errorBands.map((b, i) => ({label: 'band' + i, data: flat(b, 0, 4000), borderColor: '#3a3a3a', borderWidth: 2, borderDash: [9, 6], pointRadius: 0, order: 1})),
    {label: 'Error', data: toXY(errorData), borderColor: '#ffc000', borderWidth: 1.1, pointRadius: 0, order: 2}
  ]},
  options: Object.assign({}, base, {
    layout: {padding: {left: 0, top: 20, right: 30, bottom: 0}},
    plugins: {legend: {display: false}, tooltip: {enabled: false}, frame: {color: '#222', width: 1.6, len: 5}},
    scales: {
      x: linScale({min: 0, max: 4000, ticks: timeTicks, fs: 19, pad: 7, h: 64,
        grid: {color: '#d4d4d4', lineWidth: 1, drawTicks: false}, dash: [2, 1],
        title: {display: true, text: 'Time (s)', color: '#000', font: bold(20), padding: {top: 0, bottom: 6}}}),
      y: linScale({min: -0.03, max: 0.03, ticks: errTicks, labels: errTickLabels, fs: 19, pad: 6, w: 78,
        grid: {color: '#d4d4d4', lineWidth: 1, drawTicks: false}, dash: [2, 1],
        title: {display: true, text: 'Error (V)', color: '#000', font: bold(20), padding: {top: 1, bottom: 0}}})
    }
  }),
  plugins: [framePlugin]
});

// ---------------- (c) relative error ----------------
new Chart(document.getElementById('cC'), {
  type: 'line',
  data: {datasets: [
    {label: 'Relative error', data: toXY(relErrorData), borderColor: '#ffc000', borderWidth: 1.1, pointRadius: 0, order: 2},
    {label: 'Average value', data: flat(avgRelErr, 0, 4000), borderColor: '#6a1fd0', borderWidth: 4, pointRadius: 0, order: 1}
  ]},
  options: Object.assign({}, base, {
    layout: {padding: {left: 0, top: 17, right: 27, bottom: 0}},
    plugins: {legend: {display: false}, tooltip: {enabled: false}, frame: {color: '#222', width: 1.6, len: 5},
      boxLegend: {x: 433, y: 39, w: 387, h: 40, font: 'bold 15px ' + FAMILY, items: [
        {dataset: 0, x1: 448, x2: 511, tx: 522, lw: 3, color: '#ffd966'},
        {dataset: 1, x1: 652, x2: 717, tx: 720, lw: 4.5}]}
    },
    scales: {
      x: linScale({min: 0, max: 4000, ticks: timeTicks, fs: 19, pad: 5, h: 53,
        grid: {color: '#d4d4d4', lineWidth: 1, drawTicks: false}, dash: [2, 1],
        title: {display: true, text: 'Time (s)', color: '#000', font: bold(20), padding: {top: 0, bottom: 2}}}),
      y: linScale({min: 0, max: 0.6, ticks: relTicks, labels: relTickLabels, fs: 19, pad: 7, w: 79,
        grid: {color: '#d4d4d4', lineWidth: 1, drawTicks: false}, dash: [2, 1],
        title: {display: true, text: 'Relative error (%)', color: '#000', font: bold(20), padding: {top: 19, bottom: 0}}})
    }
  }),
  plugins: [framePlugin, boxLegend]
});

// ---------------- captions: fit widths ----------------
[['capA', 720], ['capB', 698], ['capC', 750]].forEach(([id, w]) => {
  const el = document.getElementById(id);
  const cur = el.getBoundingClientRect().width;
  if (cur > 0) el.style.transform = 'scaleX(' + (w / cur).toFixed(4) + ')';
});
</script>
</body></html>
